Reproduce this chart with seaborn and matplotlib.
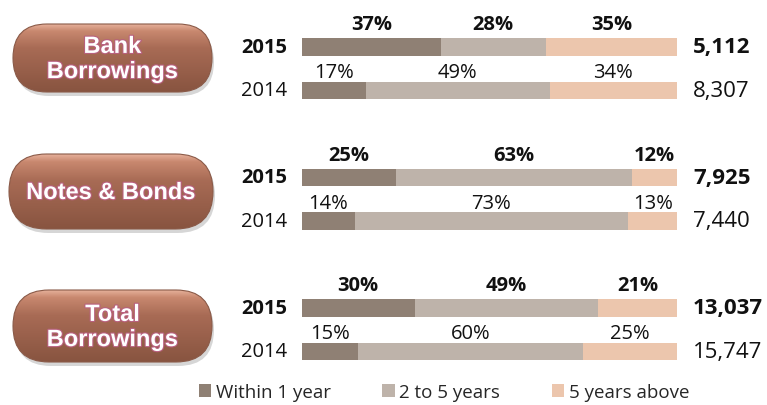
import numpy as np
import pandas as pd
import matplotlib
matplotlib.use("Agg")
import matplotlib.pyplot as plt
import seaborn as sns
from matplotlib.patches import FancyBboxPatch, Patch
from matplotlib.colors import LinearSegmentedColormap
import matplotlib.patheffects as pe

# data
groups = ["Bank\nBorrowings", "Notes & Bonds", "Total\nBorrowings"]
years = ["2015", "2014"]
within_1 = [37, 17, 25, 14, 30, 15]
two_to_five = [28, 49, 63, 73, 49, 60]
above_5 = [35, 34, 12, 13, 21, 25]
totals = ["5,112", "8,307", "7,925", "7,440", "13,037", "15,747"]
series_names = ["Within 1 year", "2 to 5 years", "5 years above"]
colors = ["#8f8074", "#beb3aa", "#ecc6ad"]


def main():
    sns.set_style("white")
    plt.rcParams["font.family"] = ["Open Sans", "DejaVu Sans"]

    row_ids = [f"{g}-{y}" for g in range(len(groups)) for y in years]
    order = []
    for g in range(len(groups)):
        order += [f"{g}-{y}" for y in years]
        if g < len(groups) - 1:
            order.append(f"gap{g}")

    df = pd.DataFrame({
        "row": row_ids,
        "year": years * len(groups),
        "w1": within_1,
        "w2": two_to_five,
        "w3": above_5,
    })
    df["c1"] = df["w1"]
    df["c2"] = df["w1"] + df["w2"]
    df["c3"] = df["w1"] + df["w2"] + df["w3"]

    W, H = 767, 406
    fig = plt.figure(figsize=(W / 100, H / 100), dpi=100)

    # background axes in pixel coordinates for the pill labels
    bg = fig.add_axes([0, 0, 1, 1], zorder=0)
    pills = [(13, 25, 199, 68), (9, 155, 204, 75), (13, 291, 199, 72)]
    cmap = LinearSegmentedColormap.from_list(
        "pill", [(0, "#e6b09a"), (0.1, "#c8886f"), (0.35, "#a86b55"), (1, "#885440")])
    grad = np.linspace(0, 1, 200).reshape(-1, 1)
    for (x, y, w, h), name in zip(pills, groups):
        shadow = FancyBboxPatch((x + 2, y + 4), w, h,
                                boxstyle=f"round,pad=0,rounding_size={h / 2}",
                                facecolor="#000000", alpha=0.16, edgecolor="none")
        bg.add_patch(shadow)
        pill = FancyBboxPatch((x, y), w, h, boxstyle=f"round,pad=0,rounding_size={h / 2}",
                              facecolor="none", edgecolor="#8a5a48", linewidth=0.8)
        bg.add_patch(pill)
        im = bg.imshow(grad, cmap=cmap, extent=(x, x + w, y + h, y), aspect="auto",
                       origin="upper", zorder=1)
        im.set_clip_path(pill)
        pill.set_zorder(2)
        bg.text(x + w / 2, y + h / 2 + 1, name, ha="center", va="center", color="white",
                fontsize=17, fontweight="bold", family=["Liberation Sans", "DejaVu Sans"],
                linespacing=1.12, zorder=3,
                path_effects=[pe.withStroke(linewidth=1.6, foreground="#b8607e")])
    bg.set_xlim(0, W)
    bg.set_ylim(H, 0)
    bg.axis("off")

    # bar axes: x 302..677 px, rows 43.5 px apart starting at 48 px
    top_px, bot_px = 48 - 0.75 * 43.5, 48 + 7.75 * 43.5
    ax = fig.add_axes([302 / W, (H - bot_px) / H, 375 / W, (bot_px - top_px) / H], zorder=1)
    for col, color in zip(["c3", "c2", "c1"], colors[::-1]):
        sns.barplot(data=df, x=col, y="row", order=order, color=color, width=0.4,
                    orient="h", saturation=1, errorbar=None, edgecolor="none",
                    linewidth=0, ax=ax)
    ax.set_xlim(0, 100)
    ax.set_ylim(7.75, -0.75)
    ax.axis("off")

    for i, r in df.iterrows():
        pos = order.index(r["row"])
        bold = r["year"] == years[0]
        weight = "bold" if bold else "normal"
        starts = [0, r["c1"], r["c2"]]
        widths = [r["w1"], r["w2"], r["w3"]]
        lift = 0.52 if bold else 0.42
        for s, w in zip(starts, widths):
            ax.text(s + w / 2, pos - lift, f"{w}%", ha="center", va="center",
                    fontsize=14.5, fontweight=weight, color="#111111", clip_on=False)
        ax.text(-4.0, pos, r["year"], ha="right", va="center", fontsize=14.5,
                fontweight=weight, color="#111111", clip_on=False)
        ax.text(104.3, pos, totals[i], ha="left", va="center", fontsize=16,
                fontweight=weight, color="#111111", clip_on=False)

    handles = [Patch(facecolor=c, edgecolor="none") for c in colors]
    fig.legend(handles, series_names, ncol=3, loc="center left",
               bbox_to_anchor=(199 / W, 13 / H), frameon=False, fontsize=13.5,
               handlelength=0.65, handleheight=0.65, handletextpad=0.25,
               columnspacing=2.75, borderaxespad=0, borderpad=0)

    fig.savefig("out.png", dpi=100)


if __name__ == "__main__":
    main()
